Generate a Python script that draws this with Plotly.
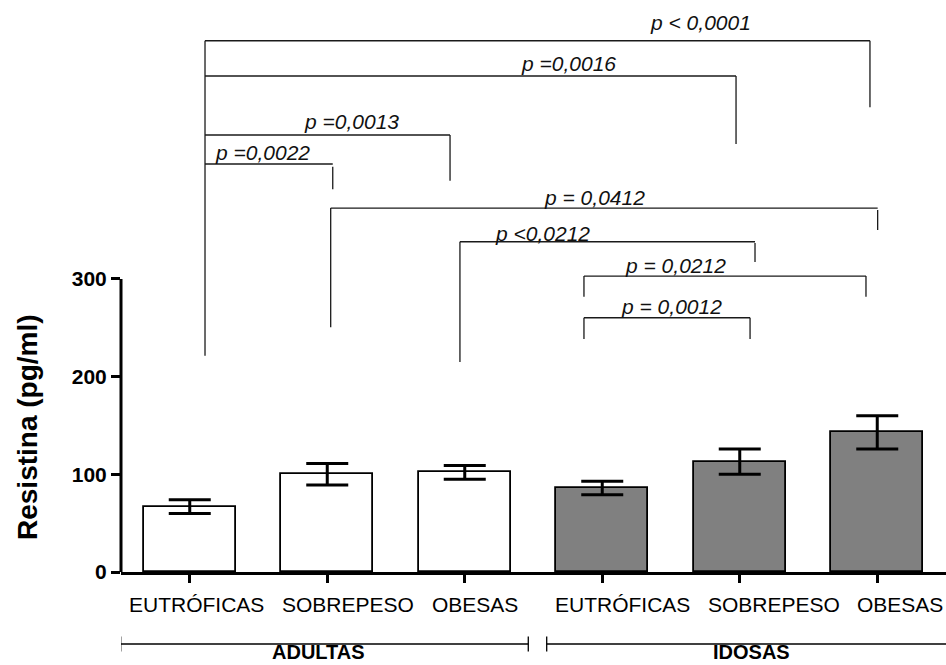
import plotly.graph_objects as go

# ---- data -------------------------------------------------------------
groups = ["ADULTAS", "IDOSAS"]
categories = ["EUTRÓFICAS", "SOBREPESO", "OBESAS"]
resistina_adultas = [67, 100, 102]
erro_adultas = [7, 11, 7]
resistina_idosas = [86, 113, 143]
erro_idosas = [7, 13, 17]
y_ticks = [0, 100, 200, 300]
p_labels = ["p < 0,0001", "p =0,0016", "p =0,0013", "p =0,0022",
            "p = 0,0412", "p <0,0212", "p = 0,0212", "p = 0,0012"]

# ---- layout constants ---------------------------------------------------
W, H = 946, 665
ML, MB = 121, 93
PLOT_H = H - MB
Y_MAX = 585.6
FONT = "Liberation Sans, Arial, sans-serif"

n = len(categories)
x_ad = list(range(n))
x_id = [n + i for i in range(n)]

fig = go.Figure()
fig.add_bar(x=x_ad, y=resistina_adultas, width=0.67,
            marker=dict(color="white", line=dict(color="black", width=1.8)),
            error_y=dict(type="data", array=erro_adultas, color="black",
                         thickness=3, width=21),
            name=groups[0], showlegend=False)
fig.add_bar(x=x_id, y=resistina_idosas, width=0.67,
            marker=dict(color="#808080", line=dict(color="black", width=1.8)),
            error_y=dict(type="data", array=erro_idosas, color="black",
                         thickness=3, width=21),
            name=groups[1], showlegend=False)

shapes = []
annotations = []
LINE = dict(color="#1a1a1a", width=1.3)

def seg(x0, y0, x1, y1):
    shapes.append(dict(type="line", xref="x", yref="y",
                       x0=x0, y0=y0, x1=x1, y1=y1, line=LINE))

# significance brackets: x_left, x_right, line level, left leg, right leg, label pos
brackets = [
    (0.111, 4.947, 543.9, None,            (543.9, 475.7), 3.718, 562.1),
    (0.111, 3.973, 507.8, None,            (507.8, 438.2), 2.758, 521.1),
    (0.111, 1.893, 447.4, None,            (447.4, 400.6), 1.178, 461.0),
    (0.111, 1.040, 417.7, None,            (415.0, 391.8), 0.529, 429.3),
    (1.025, 5.003, 372.6, (372.6, 250.5), (370.6, 350.1), 2.947, 383.6),
    (1.965, 4.111, 338.1, (338.1, 215.0), (336.8, 317.4), 2.569, 346.7),
    (2.867, 4.918, 303.0, (303.0, 281.8), (303.0, 281.8), 3.536, 313.3),
    (2.867, 4.075, 260.3, (260.3, 238.5), (260.3, 238.5), 3.500, 271.6),
]
# common left leg of the four comparisons against adult eutrophic group
seg(0.111, 543.9, 0.111, 221.4)
for label, (xl, xr, yl, lleg, rleg, tx, ty) in zip(p_labels, brackets):
    seg(xl, yl, xr, yl)
    if lleg:
        seg(xl, lleg[0], xl, lleg[1])
    seg(xr, rleg[0], xr, rleg[1])
    annotations.append(dict(x=tx, y=ty, xref="x", yref="y", text=f"<i>{label}</i>",
                            showarrow=False, xanchor="center", yanchor="middle",
                            font=dict(family=FONT, size=21, color="#111")))

# y axis line only up to 300
shapes.append(dict(type="line", xref="paper", yref="paper",
                   x0=0, x1=0, y0=0, y1=300 / Y_MAX,
                   line=dict(color="black", width=3)))

# category labels under the ticks
label_shift = [7, 21, 10, 20, 34, 23]
for i, name in enumerate(categories * 2):
    annotations.append(dict(x=i, y=0, xref="x", yref="paper", text=name,
                            showarrow=False, xanchor="center", yanchor="middle",
                            xshift=label_shift[i], yshift=-32,
                            font=dict(family=FONT, size=21, color="black")))

# group brackets under the categories
gy = -(644 - PLOT_H) / PLOT_H
cap = 7.5 / PLOT_H
group_spans = [(-0.502, 2.462, True), (2.596, 5.5, False)]
for (g0, g1, right_cap), gname, gx in zip(group_spans, groups, [0.933, 4.087]):
    shapes.append(dict(type="line", xref="x", yref="paper", x0=g0, x1=g1,
                       y0=gy, y1=gy, line=dict(color="black", width=1.3)))
    shapes.append(dict(type="line", xref="x", yref="paper", x0=g0, x1=g0,
                       y0=gy - cap, y1=gy + cap, line=dict(color="black", width=1.3)))
    if right_cap:
        shapes.append(dict(type="line", xref="x", yref="paper", x0=g1, x1=g1,
                           y0=gy - cap, y1=gy + cap, line=dict(color="black", width=1.3)))
    annotations.append(dict(x=gx, y=-(H - 1 - PLOT_H) / PLOT_H, xref="x", yref="paper",
                            text=f"<b>{gname}</b>", showarrow=False,
                            xanchor="center", yanchor="bottom", borderpad=0,
                            font=dict(family=FONT, size=20, color="black")))

# y axis title
annotations.append(dict(x=(27.5 - ML) / (W - ML), y=(PLOT_H - 427.5) / PLOT_H,
                        xref="paper", yref="paper", text="<b>Resistina (pg/ml)</b>",
                        textangle=-90, showarrow=False, xanchor="center", yanchor="middle",
                        font=dict(family=FONT, size=28, color="black")))

fig.update_layout(
    width=W, height=H,
    margin=dict(l=ML, r=0, t=0, b=MB),
    plot_bgcolor="white", paper_bgcolor="white",
    shapes=shapes, annotations=annotations,
    bargap=0,
    xaxis=dict(range=[-0.5, 5.5], tickvals=list(range(2 * n)), showticklabels=False,
               ticks="outside", ticklen=8, tickwidth=3, tickcolor="black",
               showline=True, linewidth=3, linecolor="black",
               showgrid=False, zeroline=False, fixedrange=True),
    yaxis=dict(range=[0, Y_MAX], tickvals=y_ticks, ticks="outside", ticklen=9,
               tickwidth=3, tickcolor="black", showline=False, showgrid=False,
               zeroline=False,
               tickfont=dict(family=FONT, size=21, color="black", weight="bold")),
)

fig.write_html("out.html")
